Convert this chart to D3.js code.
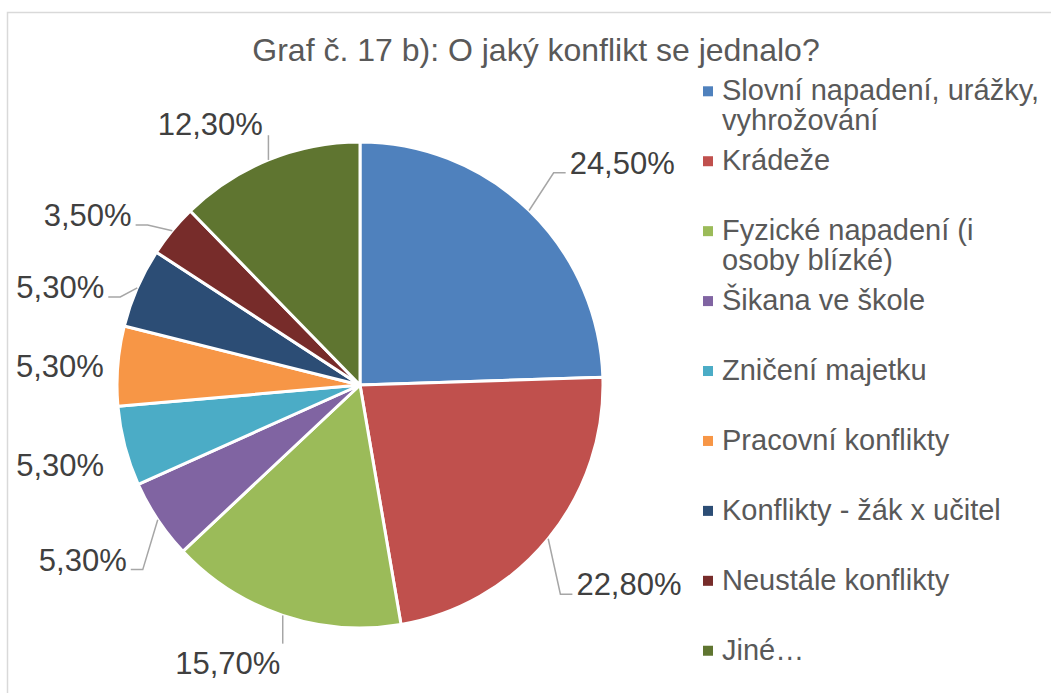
<!DOCTYPE html>
<html>
<head>
<meta charset="utf-8">
<script src="https://cdn.jsdelivr.net/npm/d3@7"></script>
<style>
  body { margin: 0; background: #fff; }
  text { font-family: "Liberation Sans", Arial, sans-serif; }
</style>
</head>
<body>
<div id="chart"></div>
<script>
var w = 1051,
    h = 693;

// data
var title = "Graf č. 17 b): O jaký konflikt se jednalo?";
var categories = [
  "Slovní napadení, urážky, vyhrožování",
  "Krádeže",
  "Fyzické napadení (i osoby blízké)",
  "Šikana ve škole",
  "Zničení majetku",
  "Pracovní konflikty",
  "Konflikty - žák x učitel",
  "Neustále konflikty",
  "Jiné…"
];
var values = [24.5, 22.8, 15.7, 5.3, 5.3, 5.3, 5.3, 3.5, 12.3];
var colors = ["#4F81BD", "#C0504D", "#9BBB59", "#8064A2", "#4BACC6",
              "#F79646", "#2C4D75", "#772C2A", "#5F7530"];

// manual label moves (like excel's dragged labels), in px from the default spot
var labelNudge = [[43, 4], [25, 0], [-32, -21], [-15, 0], [5, 1],
                  [14, 6], [-11, 28], [-29, 30], [-31, 31]];

var cx = 360,
    cy = 385,
    radius = 243,
    labelRadius = 315;

var svg = d3.select('#chart').append('svg')
  .attr('width', w)
  .attr('height', h);

// chart frame
svg.append('rect')
  .attr('x', 7.5)
  .attr('y', 12.5)
  .attr('width', 1200)
  .attr('height', 800)
  .attr('fill', 'none')
  .attr('stroke', '#D9D9D9')
  .attr('stroke-width', 1.5);

svg.append('text')
  .attr('x', 536)
  .attr('y', 61)
  .attr('text-anchor', 'middle')
  .attr('font-size', 32)
  .attr('fill', '#595959')
  .text(title);

var pie = d3.pie().sort(null).value(function(d) { return d; });
var arc = d3.arc().innerRadius(0).outerRadius(radius);
var slices = pie(values);

var g = svg.append('g')
  .attr('transform', 'translate(' + cx + ',' + cy + ')');

g.selectAll('path')
  .data(slices)
  .enter().append('path')
  .attr('d', arc)
  .attr('fill', function(d, i) { return colors[i]; })
  .attr('stroke', '#fff')
  .attr('stroke-width', 3)
  .attr('stroke-linejoin', 'round');

var fmt = d3.format('.2f');
function pct(v) { return fmt(v).replace('.', ',') + '%'; }

// data labels + leader lines
var labels = svg.append('g');
var leaders = svg.append('g');

slices.forEach(function(d, i) {
  var mid = (d.startAngle + d.endAngle) / 2;
  var lx = cx + labelRadius * Math.sin(mid) + labelNudge[i][0];
  var ly = cy - labelRadius * Math.cos(mid) + labelNudge[i][1];
  var base = ly + 11;

  var t = labels.append('text')
    .attr('x', lx)
    .attr('y', base)
    .attr('text-anchor', 'middle')
    .attr('font-size', 31)
    .attr('fill', '#404040')
    .text(pct(d.value));

  var tw = t.node().getComputedTextLength();
  var left = lx - tw / 2,
      right = lx + tw / 2,
      top = base - 30,
      bottom = base;

  // point on the rim
  var ax = cx + radius * Math.sin(mid),
      ay = cy - radius * Math.cos(mid);

  var ddx = Math.max(left - ax, 0, ax - right),
      ddy = Math.max(top - ay, 0, ay - bottom);
  if (Math.sqrt(ddx * ddx + ddy * ddy) < 25) return;

  var pts;
  if (ax >= left - 6 && ax <= right + 6) {
    pts = [[ax, ay], [ax, ay < top ? top : bottom]];
  } else if (ax > right) {
    pts = [[ax, ay], [right + 16, base - 1], [right + 4, base - 1]];
  } else {
    pts = [[ax, ay], [left - 16, base - 1], [left - 4, base - 1]];
  }

  leaders.append('path')
    .attr('d', d3.line()(pts))
    .attr('fill', 'none')
    .attr('stroke', '#A6A6A6')
    .attr('stroke-width', 1.5);
});

// legend
var legend = svg.append('g');
var maxLegendWidth = 328;

categories.forEach(function(name, i) {
  var base = 100.3 + i * 69.93;

  legend.append('rect')
    .attr('x', 703)
    .attr('y', base - 14)
    .attr('width', 10)
    .attr('height', 10)
    .attr('fill', colors[i]);

  var t = legend.append('text')
    .attr('x', 722)
    .attr('y', base)
    .attr('font-size', 29)
    .attr('fill', '#595959');

  // simple word wrap
  var words = name.split(' '),
      line = [],
      lineNo = 0,
      tspan = t.append('tspan').attr('x', 722).attr('y', base);
  words.forEach(function(word) {
    line.push(word);
    tspan.text(line.join(' '));
    if (tspan.node().getComputedTextLength() > maxLegendWidth && line.length > 1) {
      line.pop();
      tspan.text(line.join(' '));
      line = [word];
      lineNo++;
      tspan = t.append('tspan')
        .attr('x', 722)
        .attr('y', base + lineNo * 30)
        .text(word);
    }
  });
});
</script>
</body>
</html>
